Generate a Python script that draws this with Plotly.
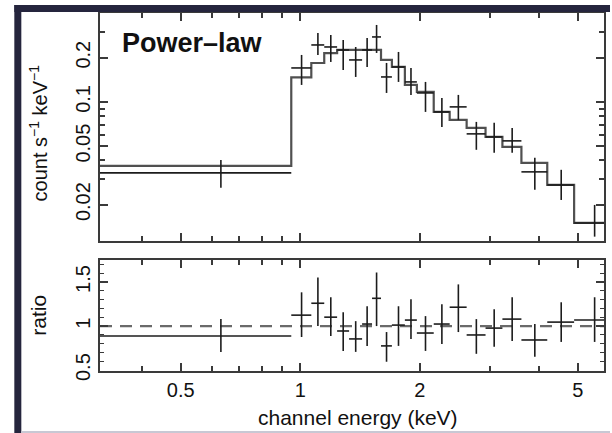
import math
import plotly.graph_objects as go

# ---------------- data ----------------
e_lo = [0.313, 0.949, 1.066, 1.149, 1.238, 1.327, 1.431, 1.516, 1.597, 1.701,
        1.834, 1.966, 2.168, 2.378, 2.624, 2.928, 3.229, 3.605, 4.188, 4.894]
e_hi = [0.949, 1.066, 1.149, 1.238, 1.327, 1.431, 1.516, 1.597, 1.701, 1.834,
        1.966, 2.168, 2.378, 2.624, 2.928, 3.229, 3.605, 4.188, 4.894, 6.13]

rate = [0.0329, 0.1703, 0.2442, 0.2366, 0.2258, 0.1931, 0.2258, 0.2769, 0.1479, 0.1730,
        0.1368, 0.1151, 0.0855, 0.0925, 0.0606, 0.0578, 0.0543, 0.0334, 0.0272, 0.0150]
rate_hi = [0.0403, 0.2088, 0.2948, 0.2856, 0.2642, 0.2366, 0.2726, 0.3341, 0.1842, 0.2188,
           0.1703, 0.1368, 0.1065, 0.1116, 0.0731, 0.0720, 0.0665, 0.0416, 0.0345, 0.0199]
rate_lo = [0.0260, 0.1305, 0.2088, 0.1871, 0.1651, 0.1479, 0.1730, 0.2154, 0.1151, 0.1368,
           0.1116, 0.0855, 0.0676, 0.0754, 0.0472, 0.0450, 0.0450, 0.0252, 0.0215, 0.0121]
model = [0.0367, 0.147, 0.184, 0.215, 0.226, 0.226, 0.226, 0.226, 0.193, 0.173,
         0.1305, 0.117, 0.0855, 0.0754, 0.0665, 0.0578, 0.0494, 0.0385, 0.0272, 0.0150]

ratio = [0.887, 1.124, 1.259, 1.101, 0.944, 0.854, 1.023, 1.315, 0.775, 1.011,
         1.068, 0.921, 1.023, 1.214, 0.899, 0.977, 1.079, 0.842, 1.045, 1.068]
ratio_hi = [1.079, 1.383, 1.552, 1.327, 1.158, 1.056, 1.225, 1.608, 0.932, 1.225,
            1.304, 1.113, 1.248, 1.473, 1.079, 1.191, 1.327, 1.023, 1.270, 1.327]
ratio_lo = [0.707, 0.876, 1.0, 0.887, 0.718, 0.707, 0.775, 1.0, 0.595, 0.775,
            0.854, 0.718, 0.797, 0.932, 0.685, 0.764, 0.831, 0.651, 0.820, 0.820]
model_ratio = 1.0

x_limits = [0.313, 5.82]
rate_limits = [0.0113, 0.403]
ratio_limits = [0.49, 1.75]

x_ticks = [0.5, 1, 2, 5]
x_minor = [0.4, 0.6, 0.7, 0.8, 0.9, 3, 4]
rate_ticks = [0.02, 0.05, 0.1, 0.2]
rate_minor = [0.03, 0.04, 0.06, 0.07, 0.08, 0.09, 0.3]
ratio_ticks = [0.5, 1, 1.5]

# ---------------- derived ----------------
centers = [(a + b) / 2 for a, b in zip(e_lo, e_hi)]
ex_plus = [b - c for b, c in zip(e_hi, centers)]
ex_minus = [c - a for a, c in zip(e_lo, centers)]

INK = "#1c1c1c"
FRAME = "#3a3a3a"
FONT = "Liberation Sans, Arial, sans-serif"

fig = go.Figure()

# model step (top)
fig.add_trace(go.Scatter(
    x=e_lo + [e_hi[-1]], y=model + [model[-1]], mode="lines",
    line=dict(shape="hv", color="#505050", width=2.2),
    xaxis="x", yaxis="y", hoverinfo="skip", showlegend=False))

# data (top)
fig.add_trace(go.Scatter(
    x=centers, y=rate, mode="markers",
    marker=dict(size=1, color=INK),
    error_x=dict(type="data", symmetric=False, array=ex_plus, arrayminus=ex_minus,
                 thickness=1.6, width=0, color=INK),
    error_y=dict(type="data", symmetric=False,
                 array=[h - v for h, v in zip(rate_hi, rate)],
                 arrayminus=[v - l for v, l in zip(rate, rate_lo)],
                 thickness=1.6, width=0, color=INK),
    xaxis="x", yaxis="y", showlegend=False))

# model ratio line (bottom)
fig.add_trace(go.Scatter(
    x=[e_lo[0], e_hi[-1]], y=[model_ratio, model_ratio], mode="lines",
    line=dict(color="#6a6a6a", width=2.2, dash="12px,8px"),
    xaxis="x2", yaxis="y2", hoverinfo="skip", showlegend=False))

# ratio data (bottom)
fig.add_trace(go.Scatter(
    x=centers, y=ratio, mode="markers",
    marker=dict(size=1, color=INK),
    error_x=dict(type="data", symmetric=False, array=ex_plus, arrayminus=ex_minus,
                 thickness=1.6, width=0, color=INK),
    error_y=dict(type="data", symmetric=False,
                 array=[h - v for h, v in zip(ratio_hi, ratio)],
                 arrayminus=[v - l for v, l in zip(ratio, ratio_lo)],
                 thickness=1.6, width=0, color=INK),
    xaxis="x2", yaxis="y2", showlegend=False))

tickfont = dict(family=FONT, size=20, color="#111")
xr = [math.log10(v) for v in x_limits]

common_axis = dict(showline=True, linecolor=FRAME, linewidth=2, mirror="allticks",
                   ticks="inside", ticklen=8, tickwidth=1.5, tickcolor=FRAME,
                   showgrid=False, zeroline=False, tickfont=tickfont)

fig.update_layout(
    width=612, height=433,
    margin=dict(l=100, r=6, t=13, b=62),
    paper_bgcolor="white", plot_bgcolor="white",
    xaxis=dict(type="log", range=xr, domain=[0, 1], anchor="y",
               tickvals=x_ticks, showticklabels=False,
               minor=dict(tickvals=x_minor, ticks="inside", ticklen=5,
                          tickwidth=1.5, tickcolor=FRAME),
               **common_axis),
    yaxis=dict(type="log", range=[math.log10(v) for v in rate_limits],
               domain=[0.3631, 1], anchor="x",
               tickvals=rate_ticks, ticktext=[str(v) for v in rate_ticks],
               tickangle=-90,
               minor=dict(tickvals=rate_minor, ticks="inside", ticklen=5,
                          tickwidth=1.5, tickcolor=FRAME),
               **common_axis),
    xaxis2=dict(type="log", range=xr, domain=[0, 1], anchor="y2",
                tickvals=x_ticks, ticktext=[str(v) for v in x_ticks],
                tickangle=0,
                minor=dict(tickvals=x_minor, ticks="inside", ticklen=5,
                           tickwidth=1.5, tickcolor=FRAME),
                **common_axis),
    yaxis2=dict(range=ratio_limits, domain=[0, 0.3101], anchor="x2",
                tickvals=ratio_ticks, ticktext=[str(v) for v in ratio_ticks],
                tickangle=-90,
                minor=dict(dtick=0.1, ticks="inside", ticklen=4,
                           tickwidth=1.2, tickcolor=FRAME),
                **common_axis),
    showlegend=False,
)

annotations = [
    dict(text="<b>Power\u2013law</b>", xref="paper", yref="paper",
         x=0.0395, y=0.916, xanchor="left", yanchor="middle", showarrow=False,
         font=dict(family=FONT, size=27, color="#111")),
    dict(text="channel energy (keV)", xref="paper", yref="paper",
         x=0.511, y=-0.1285, xanchor="center", yanchor="middle", showarrow=False,
         font=dict(family=FONT, size=21, color="#111")),
    dict(text="count s<sup>\u22121</sup> keV<sup>\u22121</sup>", xref="paper", yref="paper",
         x=-0.122, y=0.665, xanchor="center", yanchor="middle", showarrow=False,
         textangle=-90, font=dict(family=FONT, size=20, color="#111")),
    dict(text="ratio", xref="paper", yref="paper",
         x=-0.122, y=0.156, xanchor="center", yanchor="middle", showarrow=False,
         textangle=-90, font=dict(family=FONT, size=21, color="#111")),
]
fig.update_layout(annotations=annotations)

# outer decorative frame of the screenshot
shapes = [
    dict(type="rect", xref="paper", yref="paper", x0=-0.170, x1=-0.1561,
         y0=-0.1732, y1=1.0223, fillcolor="#25253d", line=dict(width=0), layer="above"),
    dict(type="rect", xref="paper", yref="paper", x0=-0.170, x1=1.0119,
         y0=1.0028, y1=1.0223, fillcolor="#25253d", line=dict(width=0), layer="above"),
    dict(type="rect", xref="paper", yref="paper", x0=-0.1561, x1=1.0119,
         y0=-0.1732, y1=-0.1676, fillcolor="#c8c8d4", line=dict(width=0), layer="above"),
]
fig.update_layout(shapes=shapes)

fig.write_html("out.html")
